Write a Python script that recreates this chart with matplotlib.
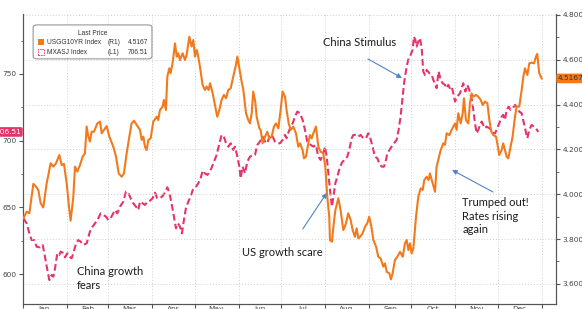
import pandas as pd
import matplotlib
matplotlib.use("Agg")
import matplotlib.pyplot as plt
import matplotlib.dates as mdates
from matplotlib.ticker import MultipleLocator, FormatStrFormatter
from matplotlib.patches import FancyBboxPatch, Rectangle


# =========================
# DATA (2024)
# =========================

start = pd.Timestamp("2024-01-01")

# USGG10YR Index (right axis) - days since Jan 1, yield %
ust_days = [
    0.2, 2.6, 4.5, 7.3, 9.2, 10.8, 12.5, 14.3, 16.7, 19.5, 21.4, 23.3, 25.6, 27.3,
    28.9, 30.8, 32.7, 33.6, 35.5, 36.7, 38.3, 40.2, 42.1, 43.7, 44.9, 46.1, 47.2,
    48.4, 50.1, 52.4, 54.3, 55.5, 57.1, 59.0, 60.9, 63.7, 65.6, 67.5, 69.6, 71.2,
    73.1, 75.0, 76.6, 78.3, 80.2, 82.5, 83.7, 84.9, 86.0, 87.2, 88.4, 90.0, 91.9,
    94.3, 95.4, 96.6, 98.5, 99.4, 100.8, 101.8, 103.2, 104.1, 105.5, 107.2, 108.4,
    109.5, 110.7, 112.6, 114.2, 115.4, 117.3, 118.9, 120.1, 121.3, 122.5, 123.6,
    124.8, 126.7, 128.3, 129.5, 130.9, 131.9, 133.8, 135.4, 137.0, 138.5, 140.1,
    141.7, 143.2, 144.8, 146.5, 148.3, 150.2, 151.2, 152.6, 154.2, 155.4, 157.3,
    158.9, 160.1, 161.3, 162.4, 163.8, 164.8, 166.7, 167.6, 169.0, 170.7, 172.3,
    173.7, 175.4, 177.0, 178.4, 180.1, 181.7, 183.1, 184.8, 185.9, 187.4, 188.8,
    190.7, 192.5, 194.2, 195.4, 197.2, 198.2, 199.6, 201.2, 202.4, 203.6, 204.8,
    206.6, 208.3, 209.9, 211.8, 213.2, 214.6, 216.0, 216.5, 217.9, 218.9, 220.3,
    222.4, 224.0, 225.9, 227.8, 229.4, 231.1, 232.5, 234.1, 235.3, 236.5, 237.7,
    239.5, 241.2, 242.8, 244.2, 245.7, 247.1, 249.0, 250.6, 252.2, 254.1, 255.3,
    256.5, 258.4, 259.5, 260.7, 262.3, 264.0, 265.9, 267.8, 269.4, 270.6, 271.8,
    272.9, 274.1, 275.3, 277.2, 278.8, 280.5, 281.9, 283.0, 284.7, 286.1, 287.0,
    288.9, 290.6, 291.7, 292.9, 294.6, 296.4, 297.6, 298.8, 300.7, 302.3, 303.5,
    304.7, 305.8, 307.0, 308.7, 310.1, 311.0, 312.4, 314.1, 315.2, 316.4, 317.6,
    319.5, 321.1, 322.8, 324.2, 325.8, 327.5, 328.9, 330.3, 331.7, 333.6, 334.5,
    335.9, 337.6, 338.7, 339.9, 341.1, 342.3, 343.4, 345.3, 347.0, 348.1, 350.0,
    351.7, 352.9, 354.0, 355.7, 357.1, 358.7, 360.4, 361.8, 362.7, 364.1, 365.8,
]
ust_yield = [
    3.892, 3.922, 3.915, 4.046, 4.034, 4.019, 3.959, 3.941, 4.049, 4.138, 4.123,
    4.138, 4.175, 4.130, 4.135, 4.049, 3.929, 3.882, 3.989, 4.123, 4.101, 4.130,
    4.168, 4.182, 4.302, 4.257, 4.235, 4.279, 4.279, 4.316, 4.324, 4.272, 4.287,
    4.304, 4.257, 4.212, 4.168, 4.093, 4.078, 4.093, 4.182, 4.257, 4.316, 4.328,
    4.309, 4.287, 4.242, 4.257, 4.212, 4.197, 4.242, 4.249, 4.324, 4.346, 4.331,
    4.376, 4.391, 4.421, 4.376, 4.525, 4.562, 4.540, 4.584, 4.673, 4.614, 4.629,
    4.599, 4.629, 4.599, 4.621, 4.703, 4.659, 4.688, 4.614, 4.644, 4.614, 4.569,
    4.487, 4.465, 4.480, 4.465, 4.495, 4.450, 4.398, 4.346, 4.376, 4.421, 4.443,
    4.428, 4.465, 4.473, 4.525, 4.577, 4.614, 4.562, 4.502, 4.465, 4.361, 4.331,
    4.316, 4.361, 4.458, 4.413, 4.346, 4.294, 4.287, 4.227, 4.257, 4.279, 4.249,
    4.257, 4.302, 4.316, 4.294, 4.376, 4.458, 4.435, 4.376, 4.316, 4.287, 4.301,
    4.272, 4.212, 4.227, 4.197, 4.160, 4.168, 4.227, 4.264, 4.249, 4.272, 4.302,
    4.212, 4.190, 4.182, 4.123, 3.989, 3.900, 3.796, 3.788, 3.855, 3.929, 3.982,
    3.929, 3.840, 3.870, 3.915, 3.885, 3.840, 3.810, 3.848, 3.803, 3.810, 3.825,
    3.855, 3.870, 3.900, 3.855, 3.796, 3.766, 3.721, 3.714, 3.677, 3.691, 3.654,
    3.647, 3.620, 3.647, 3.706, 3.721, 3.743, 3.721, 3.781, 3.796, 3.751, 3.781,
    3.736, 3.758, 3.900, 3.989, 4.026, 4.019, 4.063, 4.078, 4.063, 4.093, 4.049,
    4.011, 4.123, 4.153, 4.197, 4.227, 4.220, 4.272, 4.264, 4.287, 4.302, 4.316,
    4.287, 4.361, 4.316, 4.361, 4.428, 4.331, 4.316, 4.406, 4.450, 4.435, 4.443,
    4.435, 4.421, 4.398, 4.413, 4.406, 4.331, 4.279, 4.264, 4.257, 4.227, 4.175,
    4.197, 4.227, 4.197, 4.168, 4.160, 4.197, 4.257, 4.346, 4.391, 4.391, 4.465,
    4.525, 4.562, 4.532, 4.584, 4.587, 4.584, 4.614, 4.626, 4.540, 4.5167,
]

# MXASJ Index (left axis) - days since Jan 1, index level
asia_days = [
    0.2, 2.6, 4.5, 6.1, 7.8, 9.6, 12.0, 13.9, 15.5, 17.2, 18.6, 20.2, 21.4, 22.6,
    24.2, 25.6, 26.6, 28.0, 29.6, 31.3, 32.7, 34.3, 35.5, 37.4, 39.0, 40.7, 42.5,
    44.9, 47.2, 49.1, 50.8, 53.1, 54.8, 56.7, 58.5, 60.2, 61.8, 63.7, 64.9, 66.5,
    68.4, 70.8, 72.6, 74.3, 75.9, 77.8, 79.7, 81.3, 82.5, 84.4, 86.0, 87.7, 89.6,
    91.4, 93.1, 94.7, 96.6, 98.5, 100.1, 101.8, 103.2, 104.8, 106.5, 107.9, 109.3,
    110.7, 112.1, 113.5, 114.9, 116.6, 118.2, 119.7, 121.3, 123.6, 125.3, 126.7,
    128.3, 130.0, 131.9, 134.2, 136.6, 138.5, 140.1, 141.7, 143.2, 144.8, 146.5,
    148.3, 149.5, 151.2, 152.6, 153.5, 154.9, 156.6, 158.2, 160.1, 162.0, 163.6,
    165.3, 167.1, 169.0, 170.7, 172.3, 174.2, 176.1, 177.7, 179.4, 181.2, 183.1,
    184.8, 185.9, 187.8, 190.2, 191.8, 193.5, 195.4, 197.2, 198.9, 200.5, 201.9,
    202.9, 204.8, 206.6, 208.3, 209.9, 211.8, 213.0, 214.2, 215.6, 217.0, 217.9,
    218.9, 220.3, 221.7, 223.6, 225.4, 227.1, 228.7, 230.1, 231.8, 233.0, 234.8,
    236.5, 238.1, 240.0, 241.9, 243.5, 244.7, 245.9, 247.1, 248.2, 249.9, 251.3,
    252.9, 254.6, 256.0, 256.9, 258.4, 260.0, 261.6, 263.5, 264.9, 266.3, 267.8,
    268.9, 270.6, 272.0, 273.4, 274.8, 275.7, 276.7, 277.6, 278.8, 280.0, 281.2,
    282.3, 283.5, 284.7, 286.6, 288.2, 289.4, 290.8, 291.7, 293.1, 294.6, 296.0,
    297.6, 298.8, 300.0, 301.1, 302.3, 303.5, 304.7, 306.3, 308.2, 309.4, 310.5,
    312.0, 313.4, 314.8, 316.4, 317.6, 318.8, 319.9, 321.1, 322.3, 323.5, 324.6,
    325.8, 327.0, 328.9, 330.3, 331.7, 332.9, 334.0, 335.9, 337.6, 338.7, 339.9,
    341.1, 342.5, 343.9, 345.3, 347.0, 348.1, 350.0, 351.7, 353.3, 354.7, 355.7,
    357.1, 358.7, 360.4, 361.8, 363.4,
]
asia_level = [
    641.8, 638.0, 630.5, 625.5, 625.5, 620.5, 620.0, 621.8, 613.0, 603.0, 595.5,
    599.3, 598.0, 604.3, 615.5, 614.3, 616.8, 616.0, 612.5, 615.5, 613.0, 611.8,
    615.5, 623.0, 625.5, 624.3, 621.8, 623.0, 631.8, 635.5, 638.0, 641.8, 645.5,
    644.3, 643.0, 640.5, 641.8, 645.5, 648.0, 645.5, 650.5, 654.3, 661.8, 661.0,
    656.8, 653.0, 650.5, 648.0, 654.3, 653.0, 651.8, 654.3, 655.0, 656.8, 661.0,
    656.8, 656.8, 658.5, 661.0, 665.0, 661.0, 653.0, 643.0, 634.3, 638.0, 635.5,
    630.5, 640.5, 649.3, 654.3, 658.0, 663.0, 664.3, 668.0, 671.8, 677.5, 675.5,
    674.3, 676.8, 683.0, 689.3, 698.0, 704.3, 703.0, 698.0, 695.5, 698.0, 693.0,
    695.5, 688.0, 680.5, 671.8, 680.5, 675.5, 684.3, 688.0, 689.3, 689.3, 696.8,
    699.3, 703.0, 699.3, 698.0, 704.3, 703.0, 699.3, 698.0, 698.0, 700.5, 704.3,
    701.8, 708.0, 713.0, 718.0, 721.8, 720.5, 715.5, 708.0, 699.3, 698.0, 696.8,
    695.5, 696.8, 688.0, 685.5, 690.5, 695.5, 688.0, 673.0, 658.0, 650.5, 658.0,
    668.0, 673.0, 680.5, 684.3, 685.5, 688.0, 693.0, 701.8, 704.3, 704.3, 703.0,
    704.3, 701.8, 701.8, 705.5, 703.0, 698.0, 693.0, 688.0, 686.8, 683.0, 680.5,
    680.5, 685.5, 690.5, 693.0, 695.5, 698.0, 700.5, 708.0, 718.0, 733.0, 744.3,
    755.5, 761.8, 764.3, 768.0, 778.0, 775.5, 770.5, 774.3, 776.8, 769.3, 751.8,
    749.3, 753.0, 750.5, 749.3, 745.5, 741.8, 739.3, 751.8, 745.5, 743.0, 741.8,
    739.3, 741.8, 739.3, 740.5, 735.5, 729.3, 733.0, 735.5, 739.3, 743.0, 736.8,
    741.8, 738.0, 731.8, 723.0, 713.0, 705.5, 708.0, 711.8, 714.3, 711.8, 709.3,
    710.5, 709.3, 708.0, 705.5, 705.5, 708.0, 713.0, 718.0, 719.3, 715.5, 723.0,
    725.5, 723.0, 724.3, 726.8, 725.5, 721.8, 720.5, 713.0, 706.8, 701.8, 708.0,
    711.8, 710.5, 709.3, 706.51,
]

month_labels = ["Jan", "Feb", "Mar", "Apr", "May", "Jun",
                "Jul", "Aug", "Sep", "Oct", "Nov", "Dec"]

ust_dates = start + pd.to_timedelta(ust_days, unit="D")
asia_dates = start + pd.to_timedelta(asia_days, unit="D")

ORANGE = "#f27a1c"
PINK = "#e8336a"
BLUE = "#5083c9"
AXC = "#555555"


# =========================
# FIGURE
# =========================

fig = plt.figure(figsize=(5.82, 3.09), dpi=100)
ax = fig.add_axes([0.0395, 0.016, 0.9158, 0.939])
ax2 = ax.twinx()

ax.plot(asia_dates, asia_level, color=PINK, lw=1.5, ls=(0, (3.2, 1.6)), zorder=3)
ax2.plot(ust_dates, ust_yield, color=ORANGE, lw=1.5, zorder=3)

ax.set_xlim(start, start + pd.Timedelta(days=375.9))
ax.set_ylim(577.5, 795)
ax2.set_ylim(3.51, 4.8045)

# month boundaries as ticks, labels in the middle
ax.xaxis.set_major_locator(mdates.MonthLocator())
ax.xaxis.set_major_formatter(plt.NullFormatter())
mids = [start + pd.DateOffset(months=i) + pd.Timedelta(days=15) for i in range(12)]
ax.set_xticks(mids, minor=True)
ax.set_xticklabels(month_labels, minor=True)
ax.tick_params(axis="x", which="minor", length=0, pad=1.5, labelsize=5.3,
               labelcolor="#444444")
ax.tick_params(axis="x", which="major", length=3, color=AXC)

ax.yaxis.set_major_locator(MultipleLocator(50))
ax.yaxis.set_minor_locator(MultipleLocator(25))
ax.tick_params(axis="y", which="both", color=AXC, labelsize=5.3,
               labelcolor="#444444", pad=1.5)
ax.tick_params(axis="y", which="major", length=3)
ax.tick_params(axis="y", which="minor", length=1.8)

ax2.yaxis.set_major_locator(MultipleLocator(0.2))
ax2.yaxis.set_minor_locator(MultipleLocator(0.1))
ax2.yaxis.set_major_formatter(FormatStrFormatter("%.4f"))
ax2.tick_params(axis="y", which="both", color=AXC, labelsize=5.3,
                labelcolor="#444444", pad=1.5)
ax2.tick_params(axis="y", which="major", length=3)
ax2.tick_params(axis="y", which="minor", length=1.8)

ax.grid(axis="x", which="major", ls=(0, (1, 2)), color="#cfcfcf", lw=0.7)
ax2.grid(axis="y", which="major", ls=(0, (1, 2)), color="#cfcfcf", lw=0.7)

for a in (ax, ax2):
    a.spines["top"].set_visible(False)
    for s in ("left", "right", "bottom"):
        a.spines[s].set_color(AXC)
        a.spines[s].set_linewidth(0.8)

# last value tags
ax.text(-0.004, asia_level[-1], f"{asia_level[-1]:.2f}",
        transform=ax.get_yaxis_transform(), ha="right", va="center",
        fontsize=5.3, color="white", zorder=6, clip_on=False,
        bbox=dict(boxstyle="round,pad=0.25", fc=PINK, ec="none"))
ax2.text(1.004, ust_yield[-1], f"{ust_yield[-1]:.4f}",
         transform=ax2.get_yaxis_transform(), ha="left", va="center",
         fontsize=5.3, color="#333333", zorder=6, clip_on=False,
         bbox=dict(boxstyle="round,pad=0.25", fc=ORANGE, ec="none"))


# =========================
# LEGEND BOX
# =========================

lf = dict(fontsize=4.8, color="#333333", family="Liberation Sans",
          transform=ax.transAxes, zorder=8)
ax2.add_patch(FancyBboxPatch((0.019, 0.845), 0.223, 0.117,
                             boxstyle="round,pad=0,rounding_size=0.008",
                             transform=ax.transAxes, fc="white", ec="#888888",
                             lw=0.7, zorder=7))
ax2.text(0.13, 0.932, "Last Price", ha="center", va="center", **lf)
ax2.add_patch(Rectangle((0.028, 0.893), 0.011, 0.02, transform=ax.transAxes,
                        fc=ORANGE, ec="none", zorder=8))
ax2.add_patch(Rectangle((0.028, 0.858), 0.011, 0.02, transform=ax.transAxes,
                        fc="none", ec=PINK, lw=0.6, ls=(0, (2, 1)), zorder=8))
ax2.text(0.045, 0.903, "USGG10YR Index", ha="left", va="center", **lf)
ax2.text(0.158, 0.903, "(R1)", ha="left", va="center", **lf)
ax2.text(0.235, 0.903, "4.5167", ha="right", va="center", **lf)
ax2.text(0.045, 0.868, "MXASJ Index", ha="left", va="center", **lf)
ax2.text(0.158, 0.868, "(L1)", ha="left", va="center", **lf)
ax2.text(0.235, 0.868, "706.51", ha="right", va="center", **lf)


# =========================
# ANNOTATIONS
# =========================

tf = dict(fontsize=8, color="#1a1a1a", family="Lato", transform=ax.transAxes,
          zorder=9, linespacing=1.25)
arrow = dict(arrowstyle="-|>", color=BLUE, lw=0.8, mutation_scale=7,
             shrinkA=0, shrinkB=0)

ax2.text(0.101, 0.088, "China growth\nfears", ha="left", va="center", **tf)

ax2.text(0.411, 0.179, "US growth scare", ha="left", va="center", **tf)
ax2.annotate("", xy=(0.570, 0.383), xytext=(0.525, 0.259),
             xycoords="axes fraction", arrowprops=arrow, zorder=9)

ax2.text(0.563, 0.900, "China Stimulus", ha="left", va="center", **tf)
ax2.annotate("", xy=(0.711, 0.779), xytext=(0.647, 0.845),
             xycoords="axes fraction", arrowprops=arrow, zorder=9)

ax2.text(0.824, 0.303, "Trumped out!\nRates rising\nagain", ha="left",
         va="center", **tf)
ax2.annotate("", xy=(0.805, 0.462), xytext=(0.882, 0.386),
             xycoords="axes fraction", arrowprops=arrow, zorder=9)

fig.savefig("out.png", dpi=100)
